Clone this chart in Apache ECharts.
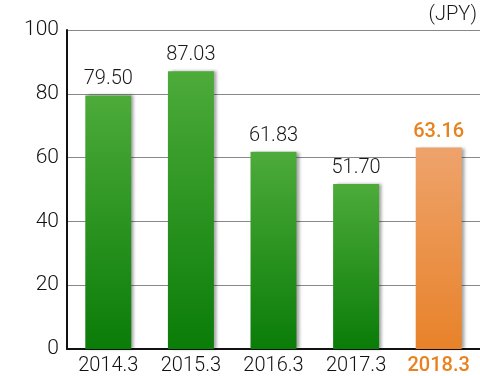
<!DOCTYPE html>
<html>
<head>
<meta charset="utf-8">
<style>
html, body { margin: 0; padding: 0; background: #fff; }
#chart { width: 480px; height: 376px; }
</style>
<script src="https://cdn.jsdelivr.net/npm/echarts@6/dist/echarts.min.js"></script>
</head>
<body>
<div id="chart"></div>
<script>
var categories = ['2014.3', '2015.3', '2016.3', '2017.3', '2018.3'];
var values = [79.50, 87.03, 61.83, 51.70, 63.16];
var yTicks = [0, 20, 40, 60, 80, 100];

var font = 'Roboto, sans-serif';

var greenFill = new echarts.graphic.LinearGradient(0, 0, 0, 1, [
    { offset: 0, color: '#4dab3a' },
    { offset: 1, color: '#0a7c08' }
]);
var orangeFill = new echarts.graphic.LinearGradient(0, 0, 0, 1, [
    { offset: 0, color: '#eea36b' },
    { offset: 1, color: '#e8822a' }
]);

var last = categories.length - 1;

var chart = echarts.init(document.getElementById('chart'));

var option = {
    animation: false,
    textStyle: { fontFamily: font, fontWeight: 300 },
    grid: { left: 67, right: 0, top: 30, bottom: 27 },
    graphic: [{
        type: 'text',
        right: 3,
        top: 5,
        style: { text: '(JPY)', font: '300 20px ' + font, fill: '#1a1a1a' }
    }],
    xAxis: {
        type: 'category',
        data: categories,
        axisLine: { lineStyle: { color: '#111', width: 2 } },
        axisTick: { show: false },
        axisLabel: {
            margin: 6,
            rich: {
                n: { fontSize: 20, color: '#111', fontWeight: 300, fontFamily: font, lineHeight: 22 },
                hl: { fontSize: 20, color: '#e8821e', fontWeight: 500, fontFamily: font, lineHeight: 22 }
            },
            formatter: function (v, i) { return (i === last ? '{hl|' : '{n|') + v + '}'; }
        }
    },
    yAxis: {
        type: 'value',
        min: yTicks[0],
        max: yTicks[yTicks.length - 1],
        interval: yTicks[1] - yTicks[0],
        axisLine: { show: true, lineStyle: { color: '#111', width: 2 } },
        axisTick: { show: false },
        axisLabel: { fontSize: 21, color: '#111', fontWeight: 300, margin: 8 },
        splitLine: { lineStyle: { color: '#888', width: 1 } }
    },
    series: [{
        type: 'bar',
        barWidth: 46,
        data: values.map(function (v, i) {
            return {
                value: v,
                itemStyle: { color: i === last ? orangeFill : greenFill },
                label: i === last ? { color: '#e8821e', fontWeight: 500 } : {}
            };
        }),
        itemStyle: {
            shadowColor: 'rgba(0,0,0,0.35)',
            shadowBlur: 3,
            shadowOffsetX: 3,
            shadowOffsetY: 0
        },
        label: {
            show: true,
            position: 'top',
            distance: 6,
            fontSize: 20,
            fontWeight: 300,
            color: '#1a1a1a',
            formatter: function (p) { return p.value.toFixed(2); }
        }
    }]
};

chart.setOption(option);
window.addEventListener('resize', function () {
    chart.resize();
});
</script>
</body>
</html>
